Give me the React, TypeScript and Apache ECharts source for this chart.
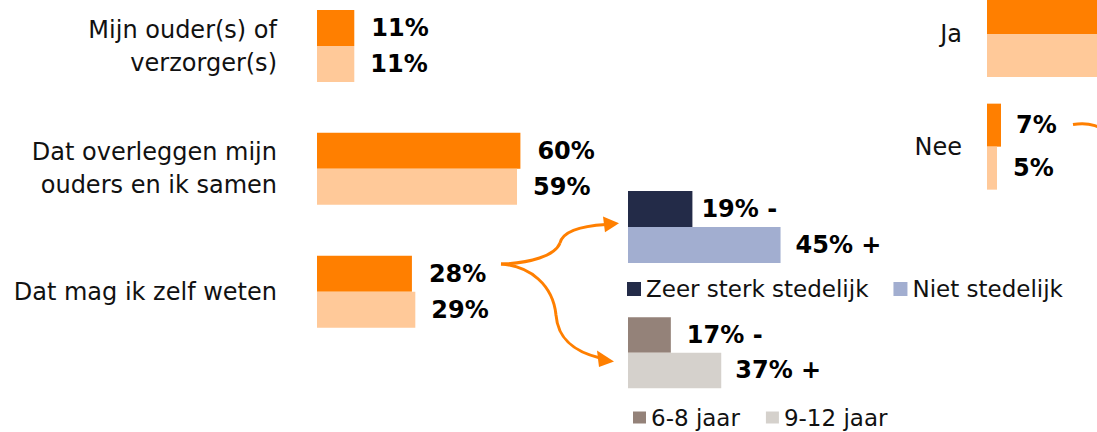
import React, { useEffect, useRef } from "react";
import * as echarts from "echarts";

// ---- data ----
const categories = [
  "Mijn ouder(s) of\nverzorger(s)",
  "Dat overleggen mijn\nouders en ik samen",
  "Dat mag ik zelf weten",
];
const mainDark = [11, 60, 28];
const mainLight = [11, 59, 29];

const subCategory = ["Dat mag ik zelf weten"];
const urbanStrong = [19];
const urbanNot = [45];
const urbanNames = ["Zeer sterk stedelijk", "Niet stedelijk"];

const ageYoung = [17];
const ageOld = [37];
const ageNames = ["6-8 jaar", "9-12 jaar"];

const jaNeeCategories = ["Ja", "Nee"];
const jaNeeDark = [93, 7];
const jaNeeLight = [95, 5];

const ORANGE = "#FF7F00";
const PEACH = "#FFC999";
const NAVY = "#232B48";
const LIGHTBLUE = "#A2AED0";
const BROWN = "#948279";
const LIGHTGRAY = "#D5D1CC";
const FONT = "DejaVu Sans";

// the canvas is shifted up/extended so grids may start above / right of the visible page
const OFF = 40;
const W = 1400;
const H = 432 + OFF * 2;

function valueLabel(distance: number, suffix: string) {
  return {
    show: true,
    position: "right" as const,
    distance,
    formatter: (p: any) => `${p.value}%${suffix}`,
    fontFamily: FONT,
    fontSize: 24,
    fontWeight: "bold" as const,
    color: "#000",
  };
}

export default function App() {
  const ref = useRef<HTMLDivElement>(null);

  useEffect(() => {
    if (!ref.current) return;
    const chart = echarts.init(ref.current, undefined, { renderer: "svg" });

    const hiddenX = (idx: number, max: number) => ({
      type: "value" as const,
      gridIndex: idx,
      min: 0,
      max,
      show: false,
    });
    const catY = (idx: number, data: string[], showLabel: boolean, margin: number) => ({
      type: "category" as const,
      gridIndex: idx,
      data,
      inverse: true,
      axisLine: { show: false },
      axisTick: { show: false },
      splitLine: { show: false },
      axisLabel: {
        show: showLabel,
        margin,
        fontFamily: FONT,
        fontSize: 24,
        lineHeight: 33,
        color: "#111",
        align: "right" as const,
      },
    });

    const stroke = { stroke: ORANGE, lineWidth: 3, fill: "none" };
    const y = (v: number) => v + OFF;

    // Ja labels fall outside the visible page in the reference
    const jaNeeItems = (vals: number[]) =>
      vals.map((v, i) => (i === 0 ? { value: v, label: { show: false } } : v));

    chart.setOption({
      animation: false,
      backgroundColor: "#fff",
      grid: [
        { left: 317, top: y(-15.4), width: 339, height: 368.5 },
        { left: 628, top: y(180), width: 339, height: 94 },
        { left: 628, top: y(305.7), width: 252, height: 94 },
        { left: 987, top: y(-22.4), width: 200, height: 225.4 },
      ],
      xAxis: [hiddenX(0, 100), hiddenX(1, 100), hiddenX(2, 100), hiddenX(3, 100)],
      yAxis: [
        catY(0, categories, true, 40),
        catY(1, subCategory, false, 0),
        catY(2, subCategory, false, 0),
        catY(3, jaNeeCategories, true, 25),
      ],
      legend: [
        {
          data: urbanNames,
          left: 627,
          top: y(277.5),
          padding: 0,
          icon: "rect",
          itemWidth: 14,
          itemHeight: 14,
          itemGap: 25,
          textStyle: { fontFamily: FONT, fontSize: 23, lineHeight: 23, color: "#111" },
        },
        {
          data: ageNames,
          left: 633,
          top: y(406),
          padding: 0,
          icon: "rect",
          itemWidth: 13,
          itemHeight: 12,
          itemGap: 26,
          textStyle: { fontFamily: FONT, fontSize: 23, lineHeight: 23, color: "#111" },
        },
      ],
      series: [
        {
          name: "Meting A",
          type: "bar",
          xAxisIndex: 0,
          yAxisIndex: 0,
          data: mainDark,
          barWidth: 36,
          barGap: "0%",
          itemStyle: { color: ORANGE },
          label: valueLabel(17, ""),
        },
        {
          name: "Meting B",
          type: "bar",
          xAxisIndex: 0,
          yAxisIndex: 0,
          data: mainLight,
          barWidth: 36,
          barGap: "0%",
          itemStyle: { color: PEACH },
          label: valueLabel(16, ""),
        },
        {
          name: urbanNames[0],
          type: "bar",
          xAxisIndex: 1,
          yAxisIndex: 1,
          data: urbanStrong,
          barWidth: 36,
          barGap: "0%",
          itemStyle: { color: NAVY },
          label: valueLabel(9, " -"),
        },
        {
          name: urbanNames[1],
          type: "bar",
          xAxisIndex: 1,
          yAxisIndex: 1,
          data: urbanNot,
          barWidth: 36,
          barGap: "0%",
          itemStyle: { color: LIGHTBLUE },
          label: valueLabel(15, " +"),
        },
        {
          name: ageNames[0],
          type: "bar",
          xAxisIndex: 2,
          yAxisIndex: 2,
          data: ageYoung,
          barWidth: 35.5,
          barGap: "0%",
          itemStyle: { color: BROWN },
          label: valueLabel(16, " -"),
        },
        {
          name: ageNames[1],
          type: "bar",
          xAxisIndex: 2,
          yAxisIndex: 2,
          data: ageOld,
          barWidth: 35.5,
          barGap: "0%",
          itemStyle: { color: LIGHTGRAY },
          label: valueLabel(14, " +"),
        },
        {
          name: "Meting A (ja/nee)",
          type: "bar",
          xAxisIndex: 3,
          yAxisIndex: 3,
          data: jaNeeItems(jaNeeDark),
          barWidth: 43,
          barGap: "0%",
          itemStyle: { color: ORANGE },
          label: valueLabel(15, ""),
        },
        {
          name: "Meting B (ja/nee)",
          type: "bar",
          xAxisIndex: 3,
          yAxisIndex: 3,
          data: jaNeeItems(jaNeeLight),
          barWidth: 43,
          barGap: "0%",
          itemStyle: { color: PEACH },
          label: valueLabel(16, ""),
        },
      ],
      graphic: [
        {
          type: "bezierCurve",
          shape: { x1: 501, y1: y(264), cpx1: 530, cpy1: y(263), cpx2: 555, cpy2: y(256), x2: 560, y2: y(243) },
          style: stroke,
        },
        {
          type: "bezierCurve",
          shape: { x1: 560, y1: y(243), cpx1: 563, cpy1: y(231), cpx2: 580, cpy2: y(226), x2: 606, y2: y(224.5) },
          style: stroke,
        },
        {
          type: "polygon",
          shape: { points: [[603, y(216.5)], [619, y(223.3)], [605, y(232.3)]] },
          style: { fill: ORANGE },
        },
        {
          type: "bezierCurve",
          shape: { x1: 501, y1: y(264), cpx1: 530, cpy1: y(266), cpx2: 553, cpy2: y(285), x2: 556, y2: y(315) },
          style: stroke,
        },
        {
          type: "bezierCurve",
          shape: { x1: 556, y1: y(315), cpx1: 558, cpy1: y(340), cpx2: 575, cpy2: y(352), x2: 600, y2: y(358) },
          style: stroke,
        },
        {
          type: "polygon",
          shape: { points: [[597, y(350.5)], [614, y(361.5)], [599, y(367)]] },
          style: { fill: ORANGE },
        },
        {
          type: "bezierCurve",
          shape: { x1: 1073, y1: y(124.5), cpx1: 1085, cpy1: y(122.5), cpx2: 1096, cpy2: y(124), x2: 1106, y2: y(131) },
          style: stroke,
        },
      ],
    });

    return () => chart.dispose();
  }, []);

  return (
    <div
      ref={ref}
      style={{ position: "fixed", left: 0, top: -OFF, width: W, height: H, background: "#fff" }}
    />
  );
}
